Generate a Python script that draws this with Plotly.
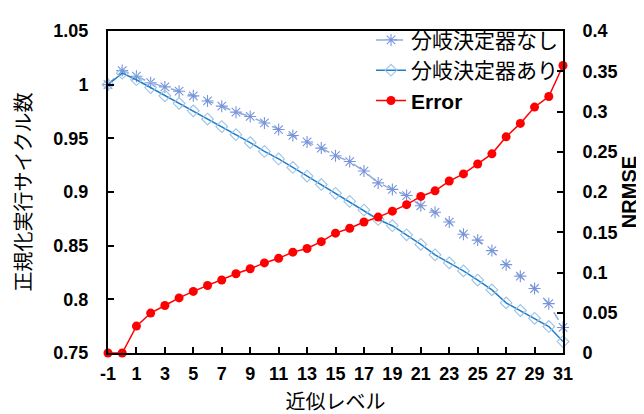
import plotly.graph_objects as go

levels = list(range(-1, 32))
without_bd = [1.0, 1.0131, 1.0079, 1.0018, 0.9979, 0.9939, 0.9896, 0.9848, 0.9800,
              0.9744, 0.9704, 0.9643, 0.9582, 0.9527, 0.9466, 0.9409, 0.9338,
              0.9284, 0.9195, 0.9085, 0.9024, 0.8967, 0.8872, 0.8811, 0.8720,
              0.8607, 0.8552, 0.8454, 0.8323, 0.8216, 0.8101, 0.7960, 0.7738]
with_bd = [1.0, 1.0107, 1.0046, 0.9973, 0.9896, 0.9826, 0.9756, 0.9680, 0.9610,
           0.9534, 0.9460, 0.9378, 0.9308, 0.9229, 0.9149, 0.9070, 0.8988,
           0.8912, 0.8832, 0.8744, 0.8686, 0.8601, 0.8512, 0.8415, 0.8340,
           0.8265, 0.8180, 0.8088, 0.7967, 0.7896, 0.7823, 0.7747, 0.7607]
error = [0.0, 0.0, 0.0334, 0.0496, 0.0590, 0.0684, 0.0765, 0.0838, 0.0907,
         0.0985, 0.1046, 0.1119, 0.1176, 0.1253, 0.1298, 0.1383, 0.1489,
         0.1550, 0.1627, 0.1688, 0.1762, 0.1843, 0.1945, 0.2014, 0.2136,
         0.2225, 0.2348, 0.2474, 0.2685, 0.2852, 0.3055, 0.3186, 0.3572]
x_ticks = list(range(-1, 32, 2))
y1_ticks = [0.75, 0.8, 0.85, 0.9, 0.95, 1.0, 1.05]
y1_labels = ["0.75", "0.8", "0.85", "0.9", "0.95", "1", "1.05"]
y2_ticks = [0, 0.05, 0.1, 0.15, 0.2, 0.25, 0.3, 0.35, 0.4]
y2_labels = ["0", "0.05", "0.1", "0.15", "0.2", "0.25", "0.3", "0.35", "0.4"]

FONT = "Liberation Sans, Arial, Noto Sans CJK JP"

fig = go.Figure()
fig.add_trace(go.Scatter(
    x=levels, y=without_bd, name="分岐決定器なし", mode="lines+markers",
    line=dict(color="#8FAADC", width=1.5, dash="dash"),
    marker=dict(symbol="asterisk-open", size=10, color="#7895DA", line=dict(width=1.1, color="#7895DA")),
    cliponaxis=False))
fig.add_trace(go.Scatter(
    x=levels, y=with_bd, name="分岐決定器あり", mode="lines+markers",
    line=dict(color="#1F7FCC", width=1.5),
    marker=dict(symbol="diamond-open", size=9, color="#9DC3E6", line=dict(width=1.1, color="#9DC3E6")),
    cliponaxis=False))
fig.add_trace(go.Scatter(
    x=levels, y=error, name="<b>Error</b>", mode="lines+markers", yaxis="y2",
    line=dict(color="#FF0000", width=1.5),
    marker=dict(symbol="circle", size=9, color="#FF0000"),
    cliponaxis=False))

axis_common = dict(showgrid=False, zeroline=False, showline=True, linecolor="black",
                   linewidth=2, ticks="inside", ticklen=6, tickwidth=1.5, tickcolor="black",
                   tickfont=dict(family=FONT, size=18, color="black", weight="bold"))

fig.update_layout(
    width=644, height=414,
    margin=dict(l=100, r=89, t=16, b=69),
    paper_bgcolor="white", plot_bgcolor="white",
    font=dict(family=FONT, color="black"),
    xaxis=dict(range=[-1, 31], tickvals=x_ticks, ticktext=[str(v) for v in x_ticks],
               mirror=True, ticklabelstandoff=3,
               title=dict(text="近似レベル", font=dict(family=FONT, size=20, color="black"), standoff=12),
               **axis_common),
    yaxis=dict(range=[0.75, 1.05], tickvals=y1_ticks, ticktext=y1_labels, ticklabelstandoff=14,
               title=dict(text="正規化実行サイクル数", font=dict(family=FONT, size=20, color="black"), standoff=16),
               **axis_common),
    yaxis2=dict(range=[0, 0.4], tickvals=y2_ticks, ticktext=y2_labels, ticklabelstandoff=14,
                overlaying="y", side="right",
                title=dict(text="<b>NRMSE</b>", font=dict(family=FONT, size=20, color="black"), standoff=2),
                **axis_common),
    legend=dict(x=1.0, xanchor="right", y=1.035, yanchor="top", bgcolor="rgba(0,0,0,0)",
                font=dict(family=FONT, size=21, color="black"), tracegroupgap=0, itemwidth=30),
    showlegend=True,
)

fig.write_html("out.html")
